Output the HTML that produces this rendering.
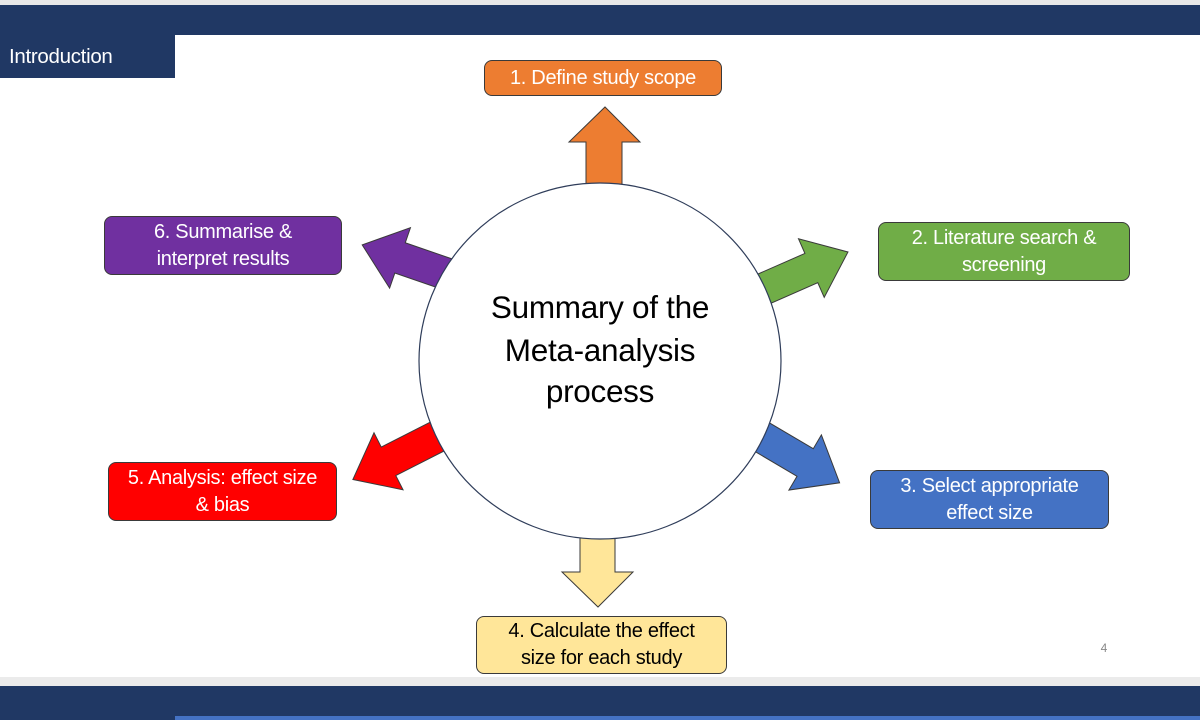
<!DOCTYPE html>
<html><head><meta charset="utf-8"><style>
body{margin:0;width:1200px;height:720px;overflow:hidden;background:#fff;font-family:"Liberation Sans",sans-serif;position:relative}
.b{position:absolute;border:1.5px solid #3a3a3a;border-radius:8px;color:#fff;font-size:20px;line-height:27px;text-align:center;display:flex;align-items:center;justify-content:center;box-sizing:border-box;letter-spacing:-0.3px;white-space:nowrap}
</style></head><body>
<div style="position:absolute;left:0;top:0;width:1200px;height:5px;background:#e8e8e8"></div>
<div style="position:absolute;left:0;top:5px;width:1200px;height:30px;background:#203864"></div>
<div style="position:absolute;left:0;top:35px;width:175px;height:43px;background:#203864;color:#fff;font-size:20.5px;line-height:43px;padding-left:9px;box-sizing:border-box;letter-spacing:-0.3px">Introduction</div>
<div style="position:absolute;left:0;top:677px;width:1200px;height:9px;background:#ebebeb"></div>
<div style="position:absolute;left:0;top:686px;width:1200px;height:34px;background:#203864"></div>
<div style="position:absolute;left:175px;top:716px;width:1025px;height:4px;background:#4472c4"></div>
<svg width="1200" height="720" style="position:absolute;left:0;top:0">
<g stroke="#3a3a3a" stroke-width="1">
<polygon points="586,200 586,142 569,142 605,107 640,142 622,142 622,200" fill="#ed7d31"/>
<polygon points="580,520 580,572 562,572 598,607 633,572 615,572 615,520" fill="#ffe699"/>
<polygon transform="translate(750,295) rotate(-23.7)" points="0,-16 67,-16 67,-32 107,0 67,32 67,16 0,16" fill="#70ad47"/>
<polygon transform="translate(750,430) rotate(30.5)" points="0,-16 64,-16 64,-32 104,0 64,32 64,16 0,16" fill="#4472c4"/>
<polygon transform="translate(450,430) rotate(153)" points="0,-16 69,-16 69,-32 109,0 69,32 69,16 0,16" fill="#ff0000"/>
<polygon transform="translate(470,282) rotate(-161)" points="0,-16 74,-16 74,-32 114,0 74,32 74,16 0,16" fill="#7030a0"/>
</g>
<ellipse cx="600" cy="361" rx="181" ry="178" fill="#fff" stroke="#2f3d5a" stroke-width="1.2"/>
<text x="600" y="318" font-size="31.5" text-anchor="middle" fill="#000" font-family="Liberation Sans" letter-spacing="-0.3">Summary of the</text>
<text x="600" y="361" font-size="31.5" text-anchor="middle" fill="#000" font-family="Liberation Sans" letter-spacing="-0.3">Meta-analysis</text>
<text x="600" y="402" font-size="31.5" text-anchor="middle" fill="#000" font-family="Liberation Sans" letter-spacing="-0.3">process</text>
<text x="1104" y="652" font-size="12" fill="#888" text-anchor="middle" font-family="Liberation Sans">4</text>
</svg>
<div class="b" style="left:484px;top:60px;width:238px;height:36px;background:#ed7d31">1. Define study scope</div>
<div class="b" style="left:878px;top:222px;width:252px;height:59px;background:#70ad47">2. Literature search &amp;<br>screening</div>
<div class="b" style="left:870px;top:470px;width:239px;height:59px;background:#4472c4">3. Select appropriate<br>effect size</div>
<div class="b" style="left:476px;top:616px;width:251px;height:58px;background:#ffe699;color:#000">4. Calculate the effect<br>size for each study</div>
<div class="b" style="left:108px;top:462px;width:229px;height:59px;background:#ff0000">5. Analysis: effect size<br>&amp; bias</div>
<div class="b" style="left:104px;top:216px;width:238px;height:59px;background:#7030a0">6. Summarise &amp;<br>interpret results</div>
</body></html>
